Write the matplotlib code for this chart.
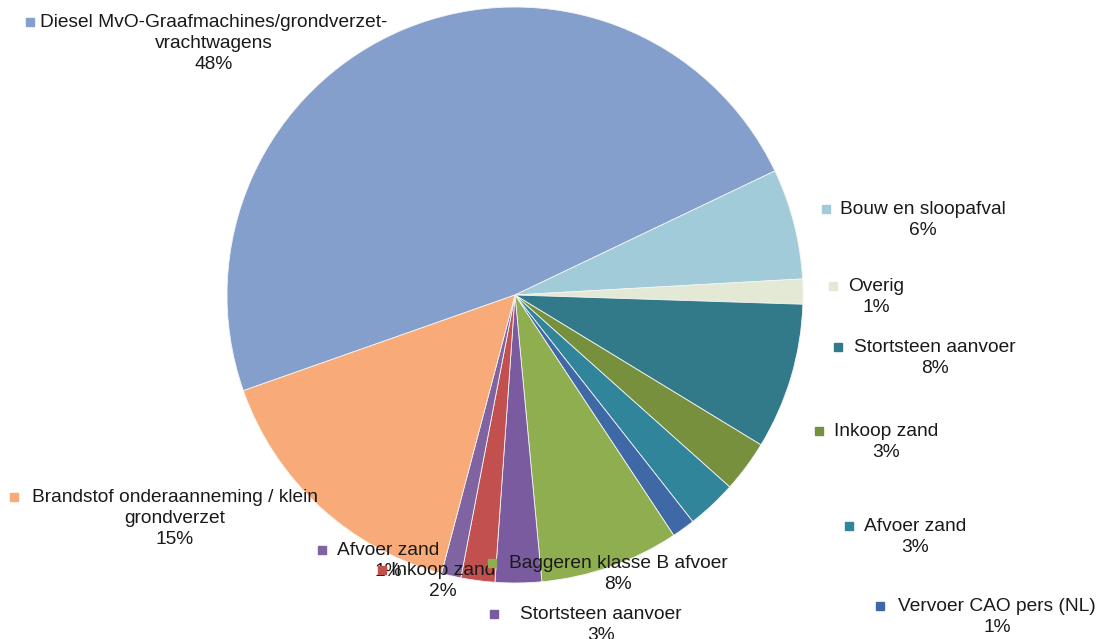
import matplotlib
matplotlib.use('Agg')
import matplotlib.pyplot as plt

plt.rcParams['font.family'] = ['Liberation Sans', 'DejaVu Sans']

names = ['Diesel MvO-Graafmachines/grondverzet-\nvrachtwagens',
         'Bouw en sloopafval', 'Overig', 'Stortsteen aanvoer', 'Inkoop zand',
         'Afvoer zand', 'Vervoer CAO pers (NL)', 'Baggeren klasse B afvoer',
         'Stortsteen aanvoer', 'Inkoop zand', 'Afvoer zand',
         'Brandstof onderaanneming / klein\ngrondverzet']
shares = [48.3, 6.2, 1.4, 8.2, 2.9, 2.8, 1.3, 7.8, 2.6, 1.9, 1.1, 15.5]
pct_labels = ['48%', '6%', '1%', '8%', '3%', '3%', '1%', '8%', '3%', '2%', '1%', '15%']
colors = ['#849fcb', '#a2cbd9', '#e3e9d5', '#327a89', '#76903d', '#31859b',
          '#3f68a7', '#8fae50', '#7b5ba0', '#c1504e', '#8064a2', '#f8ab78']

# label layout in pixel coords (x centre of text, y of first line, x of marker)
lab_x = [214, 923, 876, 935, 886, 915, 997, 618, 601, 443, 388, 175]
lab_y = [22, 209, 286, 347, 431, 526, 606, 563, 614, 570, 550, 497]
mark_x = [30, 826, 833, 838, 819, 849, 880, 492, 494, 382, 322, 14]

W, H = 1104, 639
fig = plt.figure(figsize=(W / 100, H / 100), dpi=100)
ax = fig.add_axes([0, 0, 1, 1])

ax.pie(shares, colors=colors, startangle=199.4, counterclock=False,
       center=(515, H - 295), radius=288,
       wedgeprops=dict(edgecolor='#f4f4f4', linewidth=0.6))

for i in range(len(names)):
    txt = names[i] + '\n' + pct_labels[i]
    ax.text(lab_x[i], H - lab_y[i] + 8, txt, ha='center', va='top',
            multialignment='center', fontsize=13.8, color='#1a1a1a',
            linespacing=1.3, zorder=5)
    ax.plot(mark_x[i], H - lab_y[i], marker='s', markersize=5.5,
            color=colors[i], linestyle='none', zorder=6)

ax.set_xlim(0, W)
ax.set_ylim(0, H)
ax.set_aspect('equal')
ax.axis('off')

fig.savefig('out.png', dpi=100)
